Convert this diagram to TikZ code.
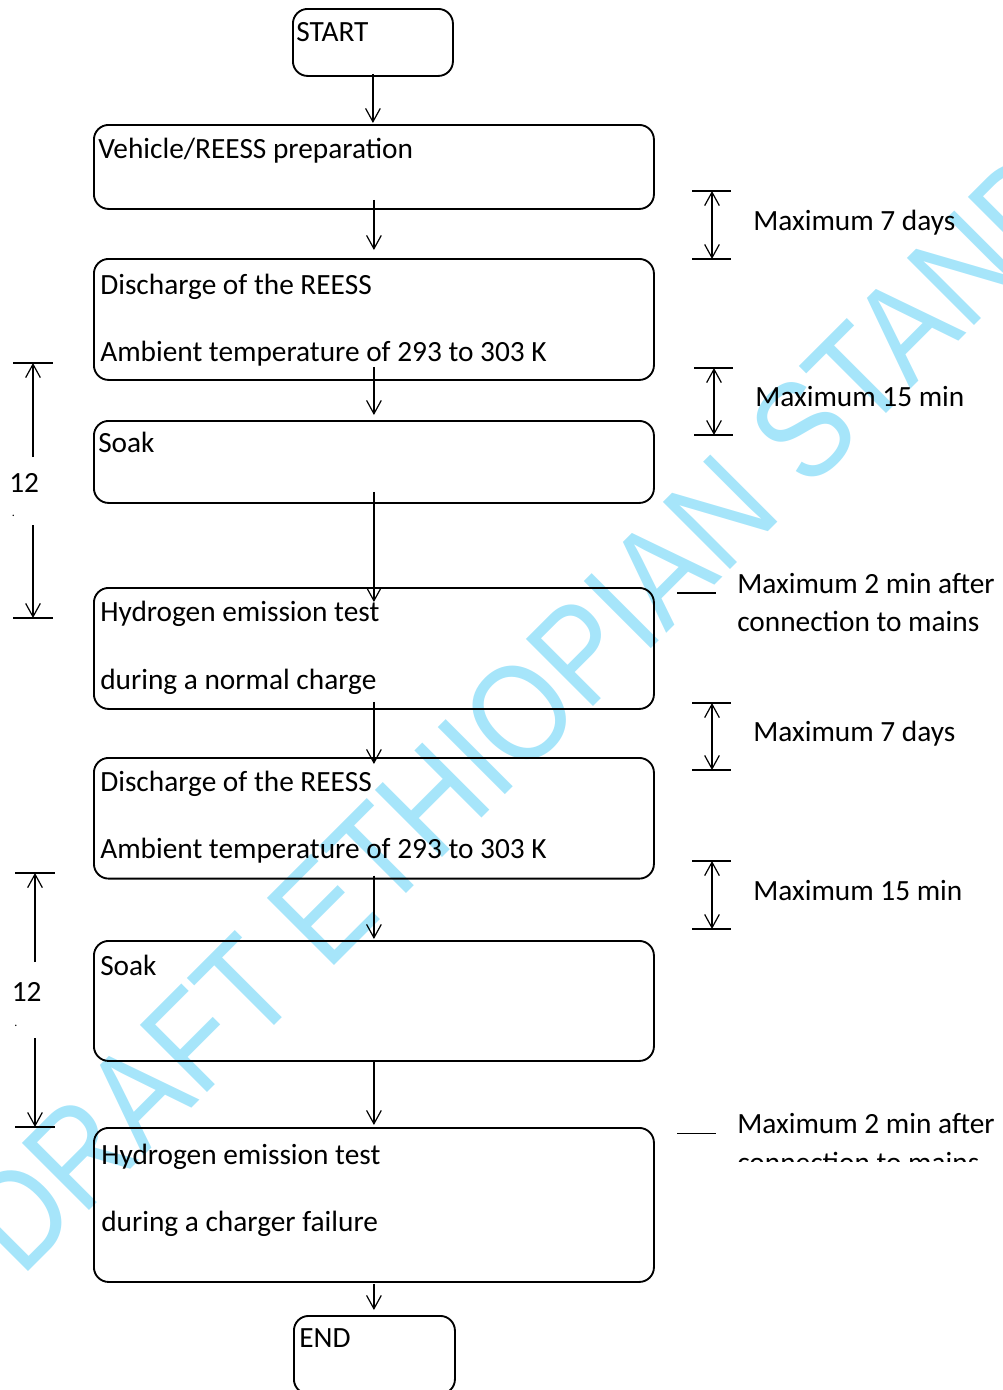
\documentclass[tikz,border=0pt]{standalone}
\usepackage{fontspec}
\setmainfont{Carlito}
\newfontfamily\wmfont{Liberation Sans}
\usetikzlibrary{arrows.meta,positioning}
\definecolor{wmblue}{RGB}{166,229,250}

\begin{document}
\begin{tikzpicture}[x=0.75pt, y=-0.75pt, >={Straight Barb[length=10pt,width=11pt]},
    every node/.style={font=\fontsize{22}{26}\selectfont, inner sep=0pt},
    box/.style={draw, line width=1.4pt, rounded corners=11pt, anchor=north west},
    txt/.style={anchor=base west},
    flow/.style={->, line width=0.9pt},
    bar/.style={line width=1.4pt}]
    \useasboundingbox (0,0) rectangle (1003,1390);
    % watermark behind everything
    \begin{scope}
        \clip (0,0) rectangle (1003,1390);
        \begin{scope}[shift={(645,655)}, rotate=45, yscale=1.15]
            \node[transform shape, anchor=base, text=wmblue, font=\wmfont\fontsize{90}{96}\selectfont] (wm) at (0,0) {DRAFT ETHIOPIAN STANDARD};
        \end{scope}
    \end{scope}
    % boxes
    \node[box, minimum width=120pt, minimum height=50.25pt] (start) at (292,8) {};
    \node[box, minimum width=420pt, minimum height=63pt] (prep) at (93,124) {};
    \node[box, minimum width=420pt, minimum height=90.75pt] (dis1) at (93,258) {};
    \node[box, minimum width=420pt, minimum height=61.5pt] (soak1) at (93,420) {};
    \node[box, minimum width=420pt, minimum height=90.75pt] (test1) at (93,587) {};
    \node[box, minimum width=420pt, minimum height=90.5pt] (dis2) at (93,757) {};
    \node[box, minimum width=420pt, minimum height=90pt] (soak2) at (93,940) {};
    \node[box, minimum width=420pt, minimum height=115.5pt] (test2) at (93,1127) {};
    \node[box, minimum width=120.75pt, minimum height=58.5pt] (stop) at (293,1315) {};
    % box texts
    \node[txt] (start-t) at ([shift={(4,33.5)}]start.north west) {START};
    \node[txt] (prep-t) at ([shift={(5,34)}]prep.north west) {Vehicle/REESS preparation};
    \node[txt] (dis1-t) at ([shift={(7,36.5)}]dis1.north west) {Discharge of the REESS};
    \node[txt] (dis1-u) at ([shift={(7,103)}]dis1.north west) {Ambient temperature of 293 to 303 K};
    \node[txt] (soak1-t) at ([shift={(5,32.5)}]soak1.north west) {Soak};
    \node[txt] (test1-t) at ([shift={(7,34.7)}]test1.north west) {Hydrogen emission test};
    \node[txt] (test1-u) at ([shift={(7,102.3)}]test1.north west) {during a normal charge};
    \node[txt] (dis2-t) at ([shift={(7,34.7)}]dis2.north west) {Discharge of the REESS};
    \node[txt] (dis2-u) at ([shift={(7,101.3)}]dis2.north west) {Ambient temperature of 293 to 303 K};
    \node[txt] (soak2-t) at ([shift={(7,35)}]soak2.north west) {Soak};
    \node[txt] (test2-t) at ([shift={(8,37)}]test2.north west) {Hydrogen emission test};
    \node[txt] (test2-u) at ([shift={(8,104.7)}]test2.north west) {during a charger failure};
    \node[txt] (stop-t) at ([shift={(6,32)}]stop.north west) {END};
    % flow arrows
    \draw[flow, shorten <=-2.25pt, shorten >=0.75pt] (start.south) -- (start.south |- prep.north);
    \foreach \a/\b/\s/\e in {prep/dis1/-7.5pt/6pt, dis1/soak1/-10.5pt/3.75pt, soak1/test1/-9pt/-11.25pt,
        test1/dis2/-6pt/-5.25pt, dis2/soak2/-3pt/0.75pt, soak2/test2/0pt/1.5pt}
        \draw[flow, shorten <=\s, shorten >=\e] (\a.south) -- (\b.north);
    \draw[flow, shorten <=0.75pt, shorten >=3.75pt] (test2.south) -- (test2.south |- stop.north);
    % time spans on the right
    \foreach \x/\t/\b in {712/191/259, 714/368/435, 712/703/770, 712/861/929} {
        \draw[bar] (\x-20,\t) -- (\x+19,\t);
        \draw[bar] (\x-20,\b) -- (\x+19,\b);
        \draw[<->, line width=0.9pt] (\x,\t) -- (\x,\b);
    }
    \node[txt] (max1) at (753,230) {Maximum 7 days};
    \node[txt] (max2) at (755,406.5) {Maximum 15 min};
    \draw[bar] (677,593) -- (716,593);
    \node[txt] (max3) at (737,593) {Maximum 2 min after};
    \node[txt] (max3b) at (737,631.5) {connection to mains};
    \node[txt] (max4) at (753,741.5) {Maximum 7 days};
    \node[txt] (max5) at (753,900) {Maximum 15 min};
    \draw[bar] (677,1133.5) -- (716,1133.5);
    \node[txt] (max6) at (737,1133.5) {Maximum 2 min after};
    \begin{scope}
        \clip (700,1100) rectangle (1003,1161.5);
        \node[txt] (max6b) at (737,1172) {connection to mains};
    \end{scope}
    % 12 h spans on the left
    \foreach \x/\t/\b/\m/\n in {33/363/618/457/525, 35/873/1127/962/1038} {
        \draw[bar] (\x-20,\t) -- (\x+20,\t);
        \draw[bar] (\x-20,\b) -- (\x+20,\b);
        \draw[flow] (\x,\m) -- (\x,\t);
        \draw[flow] (\x,\n) -- (\x,\b);
    }
    \node[txt] (h1) at (9,492.5) {12};
    \node[txt] (h2) at (11.5,1001.5) {12};
    \node[txt, font=\fontsize{9}{10}\selectfont] (h1d) at (11.5,516.5) {.};
    \node[txt, font=\fontsize{9}{10}\selectfont] (h2d) at (14,1026) {.};
\end{tikzpicture}
\end{document}
